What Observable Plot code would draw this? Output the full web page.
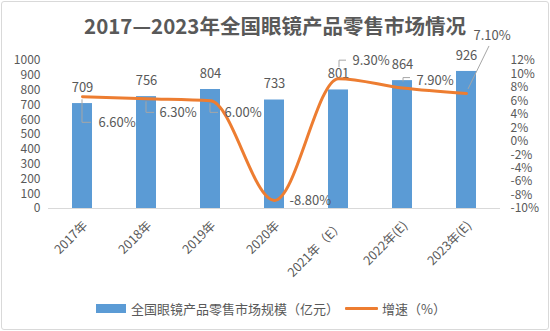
<!DOCTYPE html>
<html>
<head>
<meta charset="utf-8">
<script src="https://cdn.jsdelivr.net/npm/d3@7"></script>
<script src="https://cdn.jsdelivr.net/npm/@observablehq/plot@0.6"></script>
<style>
  body { margin: 0; background: #fff; font-family: "Noto Sans CJK SC", "Noto Sans", sans-serif; }
  #chart { position: relative; width: 550px; height: 331px; overflow: hidden; background: #fff; }
  #frame { position: absolute; left: 1px; top: 1px; width: 546px; height: 327px; border: 1px solid #d9d9d9; border-radius: 3px; pointer-events: none; }
  #title { position: absolute; left: 0; top: 10px; width: 550px; text-align: center; font-size: 20.5px; line-height: 30px; font-weight: bold; color: #595959; }
  #plot { position: absolute; left: 0; top: 0; }
  #legend { position: absolute; left: 96px; top: 298px; height: 20px; display: flex; align-items: center; font-size: 13px; color: #595959; white-space: nowrap; }
  .sw-bar { width: 30px; height: 9px; background: #5B9BD5; margin-right: 5px; }
  .sw-line { width: 33px; height: 3px; background: #ED7D31; margin: 0 4px 0 6px; border-radius: 1px; }
</style>
</head>
<body>
<div id="chart">
  <div id="plot"></div>
  <div id="title"></div>
  <div id="legend"></div>
  <div id="frame"></div>
</div>
<script>
// Retail market for eyewear products, 2017–2023
const years = ["2017年", "2018年", "2019年", "2020年", "2021年（E）", "2022年(E)", "2023年(E)"];
const sales = [709, 756, 804, 733, 801, 864, 926];          // 亿元
const growth = [6.6, 6.3, 6.0, -8.8, 9.3, 7.9, 7.1];        // %
const salesTicks = [0, 100, 200, 300, 400, 500, 600, 700, 800, 900, 1000];
const growthTicks = [-10, -8, -6, -4, -2, 0, 2, 4, 6, 8, 10, 12];

const titleText = "2017—2023年全国眼镜产品零售市场情况";
const salesName = "全国眼镜产品零售市场规模（亿元）";
const growthName = "增速（%）";

// label placement for the growth values (pixel offsets from each point)
const growthLabelOffsets = [[16, 26], [13, 14], [14, 12], [15, 0], [14, -18], [14, -7], [7, -58]];
// leader lines joining each growth label to its point (pixel polylines)
const leaderShapes = [
  [[0, 3], [0, 26], [9, 26]],
  [[0, 3], [0, 14], [8, 14]],
  [[0, 3], [0, 12], [8, 12]],
  [],
  [[1, -11], [1, -18], [8, -18]],
  [[1, -6], [1, -10], [8, -10]],
  [[2, -4], [23, -47]]
];

const BLUE = "#5B9BD5", ORANGE = "#ED7D31", TEXT = "#595959";

// secondary (growth) axis shares the y scale: map [-10, 12] onto [0, 1000]
const gMin = -10, gMax = 12, sMax = 1000;
const toLeft = g => (g - gMin) / (gMax - gMin) * sMax;
const fromLeft = v => Math.round(v / sMax * (gMax - gMin) + gMin);

const rows = years.map((year, i) => ({year, sales: sales[i], growth: growth[i]}));

function leaderLines(index, scales) {
  const x = scales.x, y = scales.y;
  const half = x.bandwidth ? x.bandwidth() / 2 : 0;
  const g = d3.create("svg:g")
    .attr("fill", "none")
    .attr("stroke", "#a6a6a6")
    .attr("stroke-width", 1);
  rows.forEach((d, i) => {
    const pts = leaderShapes[i];
    if (!pts.length) return;
    const cx = x(d.year) + half, cy = y(toLeft(d.growth));
    g.append("path").attr("d", d3.line()(pts.map(([dx, dy]) => [cx + dx, cy + dy])));
  });
  return g.node();
}

const growthLabels = rows.map((d, i) => Plot.text([d], {
  x: "year",
  y: r => toLeft(r.growth),
  text: r => r.growth.toFixed(2) + "%",
  textAnchor: "start",
  lineAnchor: "middle",
  dx: growthLabelOffsets[i][0],
  dy: growthLabelOffsets[i][1],
  fill: TEXT,
  fontSize: 13
}));

const chart = Plot.plot({
  width: 550,
  height: 331,
  marginTop: 60,
  marginBottom: 123,
  marginLeft: 48,
  marginRight: 50,
  style: {fontFamily: '"Noto Sans CJK SC", "Noto Sans", sans-serif', fontSize: "13px", color: TEXT, background: "transparent", overflow: "visible"},
  x: {type: "band", domain: years, paddingInner: 0.69, paddingOuter: 0.345},
  y: {domain: [0, sMax]},
  marks: [
    Plot.axisY({ticks: salesTicks, tickFormat: d => String(d), tickSize: 0, tickPadding: 8, label: null, fill: TEXT, fontSize: 12}),
    Plot.axisY({anchor: "right", ticks: growthTicks.map(toLeft), tickFormat: v => fromLeft(v) + "%",
                tickSize: 0, tickPadding: 10, label: null, fill: TEXT, fontSize: 12}),
    Plot.axisX({tickSize: 0, tickPadding: 15, dx: 3, tickRotate: -45, label: null, fill: TEXT, fontSize: 12.5}),
    Plot.barY(rows, {x: "year", y: "sales", fill: BLUE}),
    Plot.ruleY([0], {stroke: "#d9d9d9", strokeWidth: 1}),
    Plot.text(rows, {x: "year", y: "sales", text: d => String(d.sales), dy: -16, fill: TEXT, fontSize: 13}),
    Plot.line(rows, {x: "year", y: d => toLeft(d.growth), stroke: ORANGE, strokeWidth: 3, curve: "monotone-x", strokeLinecap: "round"}),
    leaderLines,
    ...growthLabels
  ]
});

document.getElementById("plot").append(chart);
document.getElementById("title").textContent = titleText;

const legend = d3.select("#legend");
legend.append("div").attr("class", "sw-bar");
legend.append("span").text(salesName);
legend.append("div").attr("class", "sw-line");
legend.append("span").text(growthName);
</script>
</body>
</html>
